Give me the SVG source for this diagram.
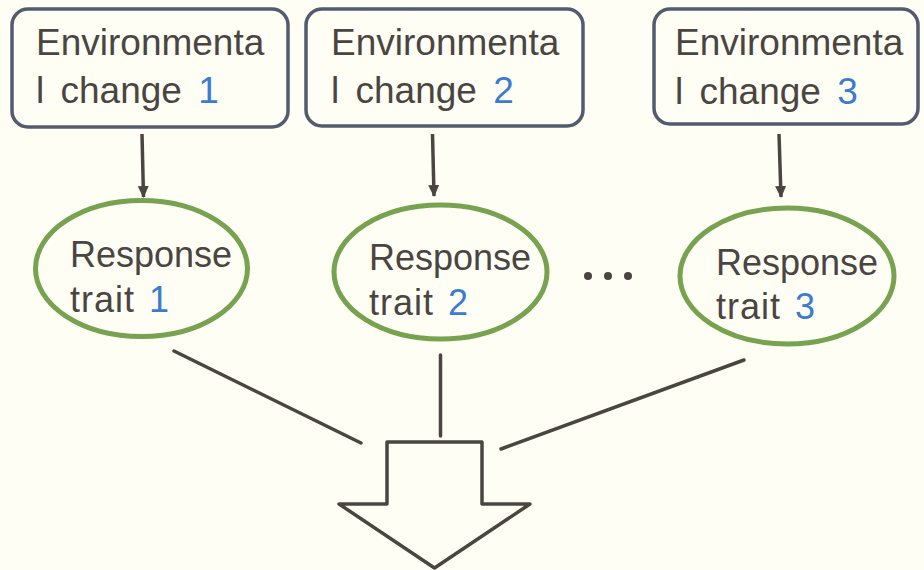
<svg xmlns="http://www.w3.org/2000/svg" width="924" height="570" viewBox="0 0 924 570">
<defs>
<marker id="ah" markerWidth="12" markerHeight="12" viewBox="0 0 12 12" refX="11" refY="6" orient="auto" markerUnits="userSpaceOnUse">
<path d="M0,0.5 L12,6 L0,11.5 Z" fill="#4b4541"/>
</marker>
<style>
.box{fill:#fefef5;stroke:#525c6e;stroke-width:3.5}
.ell{fill:none;stroke:#77a24f;stroke-width:5}
.t{font-family:"Liberation Sans",Arial,sans-serif;font-size:37px;fill:#4a4541}
.r{font-size:36px}
.w{word-spacing:6px}
.n{fill:#3b7bd0}
.ln{stroke:#4b4541;stroke-width:3.5;fill:none;stroke-linecap:round}
.arr{stroke:#4b4541;stroke-width:3.5;fill:none;marker-end:url(#ah)}
</style>
</defs>
<rect width="924" height="570" fill="#fefef5"/>
<g id="env1">
<rect class="box" x="12" y="9" width="276" height="118" rx="16"/>
<text class="t" x="36" y="55">Environmenta</text>
<text class="t w" x="36" y="103">l change <tspan class="n">1</tspan></text>
</g>
<g id="env2">
<rect class="box" x="306" y="9" width="277" height="117" rx="16"/>
<text class="t" x="331" y="55">Environmenta</text>
<text class="t w" x="331" y="103">l change <tspan class="n">2</tspan></text>
</g>
<g id="env3">
<rect class="box" x="654" y="9" width="264" height="115" rx="16"/>
<text class="t" x="675" y="55">Environmenta</text>
<text class="t w" x="675" y="104">l change <tspan class="n">3</tspan></text>
</g>
<g id="resp1">
<ellipse class="ell" cx="141.5" cy="268.5" rx="106" ry="68"/>
<text class="t r" x="70" y="267">Response</text>
<text class="t r" x="70" y="312" style="word-spacing:3px;letter-spacing:1px">trait <tspan class="n">1</tspan></text>
</g>
<g id="resp2">
<ellipse class="ell" cx="440.5" cy="272" rx="106.5" ry="67"/>
<text class="t r" x="369" y="270">Response</text>
<text class="t r" x="369" y="315" style="word-spacing:3px;letter-spacing:1px">trait <tspan class="n">2</tspan></text>
</g>
<g id="dots" fill="#4b4541">
<circle cx="588" cy="276" r="4"/>
<circle cx="608" cy="276" r="4"/>
<circle cx="628" cy="276" r="4"/>
</g>
<g id="resp3">
<ellipse class="ell" cx="787" cy="276" rx="107" ry="68"/>
<text class="t r" x="716" y="275">Response</text>
<text class="t r" x="716" y="319" style="word-spacing:3px;letter-spacing:1px">trait <tspan class="n">3</tspan></text>
</g>
<g id="connectors">
<line class="arr" x1="142" y1="134" x2="143.5" y2="197"/>
<line class="arr" x1="432.5" y1="134" x2="434" y2="196"/>
<line class="arr" x1="779" y1="134" x2="781" y2="197"/>
<line class="ln" x1="174" y1="351" x2="361" y2="443"/>
<line class="ln" x1="440.5" y1="355" x2="440.5" y2="436"/>
<line class="ln" x1="744" y1="360" x2="501" y2="449"/>
</g>
<g id="result">
<path class="ln" style="stroke-linejoin:round" d="M387,504 L387,442 L482,442 L482,504 L530,504 L434.5,568 L339,504 Z"/>
</g>
</svg>
